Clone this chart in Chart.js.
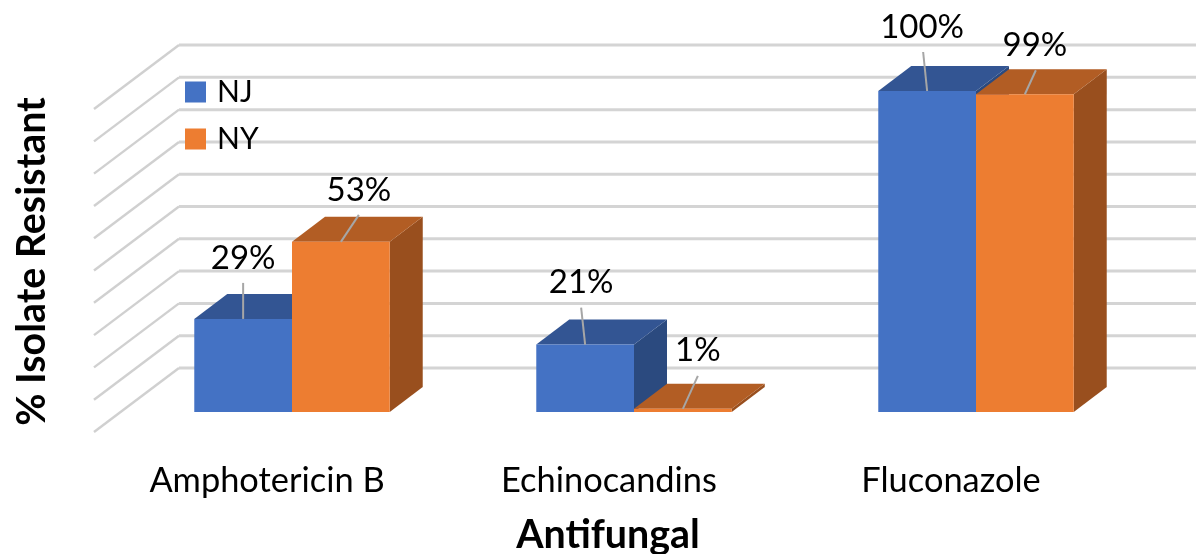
<!DOCTYPE html>
<html><head><meta charset="utf-8">
<style>html,body{margin:0;padding:0;background:#fff}canvas{display:block}</style>
<script src="https://cdn.jsdelivr.net/npm/chart.js@4"></script>
</head><body>
<canvas id="c" width="1196" height="554"></canvas>
<script>
const categories = ["Amphotericin B", "Echinocandins", "Fluconazole"];
const seriesNJ = [29, 21, 100];
const seriesNY = [53, 1, 99];
const gridTicks = [0, 10, 20, 30, 40, 50, 60, 70, 80, 90, 100];

const FONT = "Lato, Carlito, sans-serif";
const depth = {dx: 33, dy: -25};
const faces = [
  {top: "#335593", side: "#2B4A7F"},
  {top: "#B25D24", side: "#994F1E"}
];
// per dataset, per category: label centre and leader end, relative to the bar-top centre
const labelPlacement = [
  [{lx: 0, ly: -61, ex: 0, ey: -36}, {lx: -4, ly: -62, ex: -4, ey: -37}, {lx: -5, ly: -64, ex: -4, ey: -39}],
  [{lx: 18, ly: -52, ex: 18, ey: -27}, {lx: 15, ly: -58, ex: 15, ey: -33}, {lx: 10, ly: -49, ex: 11, ey: -24}]
];

const plugin3d = {
  id: "plugin3d",
  afterLayout(chart) {
    // axis titles sit off-centre from the plot, as in the original
    chart.scales.x.left -= 52;
    chart.scales.x.bottom += 5;
    chart.scales.y.bottom += 20;
    const lg = chart.legend;
    lg.left = 172; lg.top = 60;
    lg.right = lg.left + lg.width; lg.bottom = lg.top + 120;
  },
  beforeDraw(chart) {
    const {ctx, scales: {y}, chartArea: a, width} = chart;
    ctx.save();
    ctx.fillStyle = "#fff";
    ctx.fillRect(0, 0, chart.width, chart.height);
    const y0 = y.getPixelForValue(0);
    gridTicks.forEach(v => {
      const py = y.getPixelForValue(v);
      const by = y0 - 44 + (py - y0) * 1.006;
      const bx = a.left + 58;
      ctx.strokeStyle = "#D0D0D0";
      ctx.lineWidth = 2.4;
      ctx.beginPath();
      ctx.moveTo(bx - 85, by + 64);
      ctx.lineTo(bx, by);
      ctx.stroke();
      ctx.lineWidth = 3;
      ctx.strokeStyle = "#D4D4D4";
      ctx.beginPath();
      ctx.moveTo(bx, by);
      ctx.lineTo(width, by);
      ctx.stroke();
    });
    ctx.restore();
  },
  beforeDatasetsDraw(chart) {
    const {ctx} = chart;
    ctx.save();
    chart.data.datasets.forEach((ds, di) => {
      const f = faces[di];
      chart.getDatasetMeta(di).data.forEach(el => {
        const l = el.x - el.width / 2, r = el.x + el.width / 2, t = el.y, b = el.base;
        ctx.fillStyle = f.side;
        ctx.beginPath();
        ctx.moveTo(r, t); ctx.lineTo(r + depth.dx, t + depth.dy);
        ctx.lineTo(r + depth.dx, b + depth.dy); ctx.lineTo(r, b);
        ctx.closePath(); ctx.fill();
        ctx.fillStyle = f.top;
        ctx.beginPath();
        ctx.moveTo(l, t); ctx.lineTo(r, t);
        ctx.lineTo(r + depth.dx, t + depth.dy); ctx.lineTo(l + depth.dx, t + depth.dy);
        ctx.closePath(); ctx.fill();
      });
    });
    ctx.restore();
  },
  afterDatasetsDraw(chart) {
    const {ctx} = chart;
    ctx.save();
    ctx.textAlign = "center";
    ctx.textBaseline = "middle";
    ctx.font = "33px " + FONT;
    chart.data.datasets.forEach((ds, di) => {
      chart.getDatasetMeta(di).data.forEach((el, i) => {
        const p = labelPlacement[di][i];
        ctx.strokeStyle = "#A6A6A6";
        ctx.lineWidth = 2;
        ctx.beginPath();
        ctx.moveTo(el.x, el.y);
        ctx.lineTo(el.x + p.ex, el.y + p.ey);
        ctx.stroke();
        ctx.fillStyle = "#000";
        ctx.fillText(ds.data[i] + "%", el.x + p.lx, el.y + p.ly);
      });
    });
    ctx.restore();
  }
};

new Chart(document.getElementById("c"), {
  type: "bar",
  data: {
    labels: categories,
    datasets: [
      {label: "NJ", data: seriesNJ, backgroundColor: "#4472C4"},
      {label: "NY", data: seriesNY, backgroundColor: "#ED7D31"}
    ]
  },
  options: {
    responsive: false,
    animation: false,
    devicePixelRatio: 1,
    layout: {padding: {top: 91, right: 49, left: 0, bottom: 0}},
    datasets: {bar: {barPercentage: 1, categoryPercentage: 0.5715}},
    plugins: {
      legend: {
        position: "chartArea",
        align: "start",
        labels: {
          usePointStyle: true, pointStyle: "rect",
          boxWidth: 13, boxHeight: 21, padding: 17,
          color: "#000",
          font: {family: FONT, size: 30}
        }
      },
      tooltip: {enabled: false}
    },
    scales: {
      x: {
        afterFit: s => { s.height = 142; },
        grid: {display: false},
        border: {display: false},
        ticks: {color: "#000", font: {family: FONT, size: 34.4}, padding: 40, labelOffset: -25, maxRotation: 0, autoSkip: false},
        title: {display: true, text: "Antifungal", color: "#000", font: {family: FONT, size: 39.4, weight: "bold"}, padding: 0}
      },
      y: {
        min: 0, max: 100,
        afterFit: s => { s.width = 121; },
        grid: {display: false},
        border: {display: false},
        ticks: {display: false, stepSize: 10},
        title: {display: true, text: "% Isolate Resistant", color: "#000", font: {family: FONT, size: 39.4, weight: "bold"}, padding: {top: 9, bottom: 0}}
      }
    }
  },
  plugins: [plugin3d]
});
</script>
</body></html>
